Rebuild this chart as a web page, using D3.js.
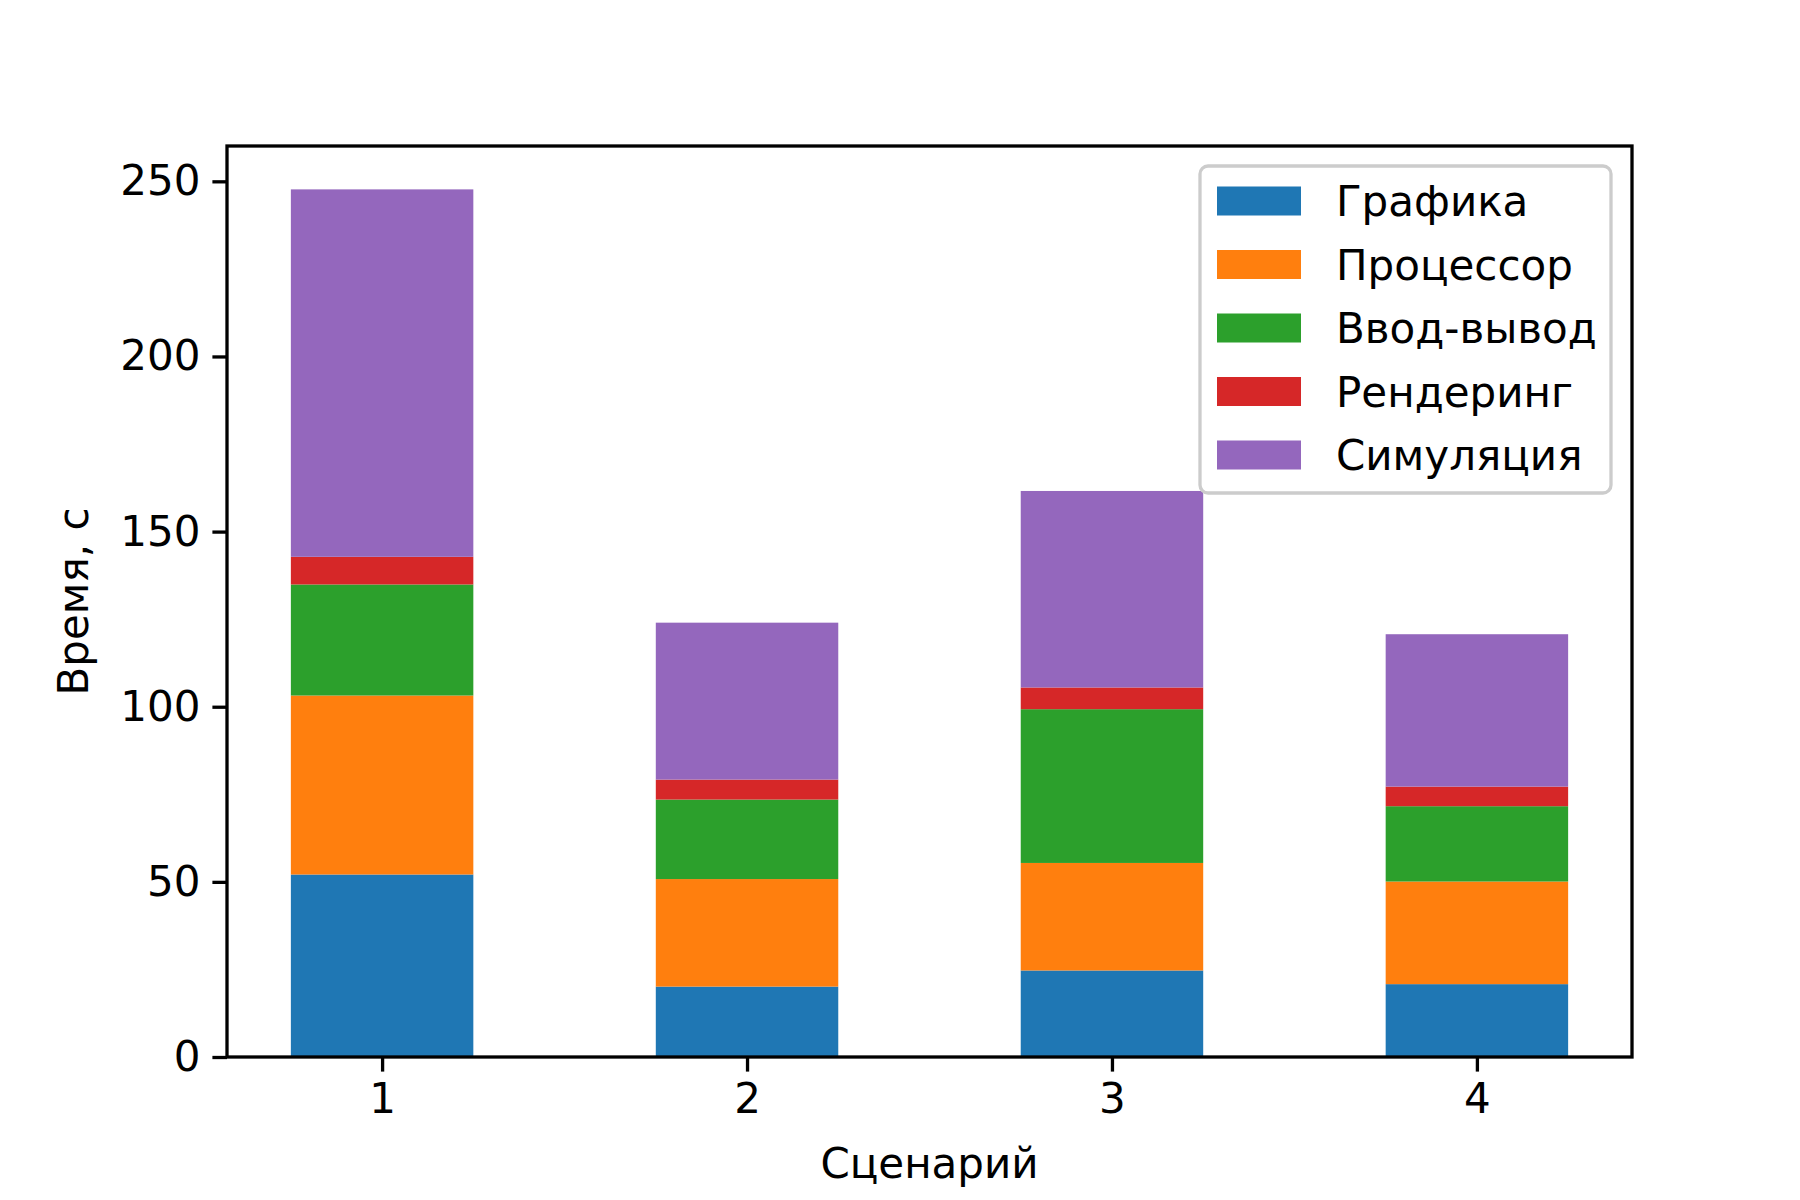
<!DOCTYPE html>
<html><head><meta charset="utf-8">
<script src="https://cdn.jsdelivr.net/npm/d3@7"></script>
<style>body{margin:0;background:#fff}svg{font-family:"DejaVu Sans",sans-serif}</style>
</head><body><svg id="c" width="1800" height="1200"></svg>
<script>
const categories = ["1","2","3","4"];
const seriesNames = ["Графика","Процессор","Ввод-вывод","Рендеринг","Симуляция"];
const colors = ["#1f77b4","#ff7f0e","#2ca02c","#d62728","#9467bd"];
const grafika = [52.1, 20.1, 24.7, 20.8];
const processor = [51.1, 30.7, 30.7, 29.3];
const io = [31.7, 22.7, 43.9, 21.5];
const rendering = [7.9, 5.7, 6.2, 5.6];
const simulation = [104.9, 44.8, 56.1, 43.5];
const yTicks = [0,50,100,150,200,250];
const series = [grafika, processor, io, rendering, simulation];

const L=227,R=1632,T=146,B=1057;
const svg=d3.select("#c");
const x=d3.scaleLinear().domain([0.575,4.425]).range([L,R]);
const totals=categories.map((c,i)=>d3.sum(series,s=>s[i]));
const y=d3.scaleLinear().domain([0,d3.max(totals)*1.05]).range([B,T]);
const bw=x(1.5)-x(1);
const rows=categories.map((c,i)=>{const o={cat:+c};seriesNames.forEach((n,k)=>o[n]=series[k][i]);return o;});
const stack=d3.stack().keys(seriesNames)(rows);
stack.forEach((layer,k)=>{
  svg.append("g").attr("fill",colors[k]).selectAll("rect").data(layer).join("rect")
   .attr("x",d=>x(d.data.cat)-bw/2).attr("width",bw)
   .attr("y",d=>y(d[1])).attr("height",d=>y(d[0])-y(d[1]));
});
const fs=42;
const ax=svg.append("g").attr("transform",`translate(0,${B})`)
 .call(d3.axisBottom(x).tickValues(categories.map(Number)).tickFormat(d3.format("d")).tickSize(14.6).tickPadding(12));
const ay=svg.append("g").attr("transform",`translate(${L},0)`)
 .call(d3.axisLeft(y).tickValues(yTicks).tickSize(14.6).tickPadding(12));
[ax,ay].forEach(a=>{a.select(".domain").remove();a.selectAll("line").attr("stroke","#000").attr("stroke-width",3.3);
 a.selectAll("text").attr("font-size",fs).attr("fill","#000").attr("font-family","DejaVu Sans");});
svg.append("rect").attr("x",L).attr("y",T).attr("width",R-L).attr("height",B-T).attr("fill","none").attr("stroke","#000").attr("stroke-width",3.3);
svg.append("text").attr("x",(L+R)/2).attr("y",1178).attr("text-anchor","middle").attr("font-size",fs).text("Сценарий");
svg.append("text").attr("transform",`translate(88,${(T+B)/2}) rotate(-90)`).attr("text-anchor","middle").attr("font-size",fs).text("Время, с");
// legend
const lg=svg.append("g");
lg.append("rect").attr("x",1200).attr("y",166).attr("width",411).attr("height",327).attr("rx",8)
 .attr("fill","#fff").attr("fill-opacity",0.8).attr("stroke","#ccc").attr("stroke-width",3.3);
seriesNames.forEach((n,k)=>{
  const cy=201+k*63.5;
  lg.append("rect").attr("x",1217).attr("y",cy-14.5).attr("width",84).attr("height",29).attr("fill",colors[k]);
  lg.append("text").attr("x",1336).attr("y",cy+15).attr("font-size",fs).text(n);
});
</script></body></html>
